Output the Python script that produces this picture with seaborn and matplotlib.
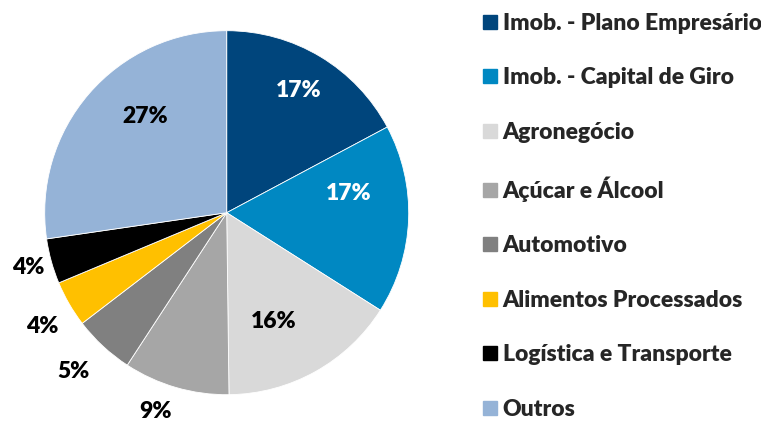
import matplotlib
matplotlib.use("Agg")
import matplotlib.pyplot as plt
from matplotlib.lines import Line2D
import numpy as np
import seaborn as sns

categories = ["Imob. - Plano Empresário", "Imob. - Capital de Giro", "Agronegócio",
              "Açúcar e Álcool", "Automotivo", "Alimentos Processados",
              "Logística e Transporte", "Outros"]
shares = [17.2, 16.8, 15.8, 9.4, 5.4, 4.1, 4.0, 27.3]
colors = ["#00457C", "#0088C2", "#D9D9D9", "#A6A6A6", "#808080", "#FFC000", "#000000", "#95B3D7"]
label_colors = ["white", "white", "black", "black", "black", "black", "black", "black"]

# label placement: radius (in pie radii) and angle offset (deg, clockwise) from wedge middle
label_r = [0.78, 0.68, 0.65, 1.16, 1.21, 1.19, 1.13, 0.69]
label_off = [-0.5, -11.3, 6.0, 3.6, 1.2, -1.7, -0.1, 8.9]

sns.set_theme(style="white")
plt.rcParams["font.family"] = ["Lato", "DejaVu Sans"]

W, H = 761, 422
fig = plt.figure(figsize=(W / 100, H / 100), dpi=100)
ax = fig.add_axes([0, 0, 1, 1])

cx, cy, R = 226.7, 212.7, 182.0
wedges, _ = ax.pie(shares, colors=colors, startangle=90, counterclock=False,
                   wedgeprops=dict(edgecolor="white", linewidth=0.6), radius=1.0)

ax.set_xlim(-cx / R, (W - cx) / R)
ax.set_ylim(-(H - cy) / R, cy / R)
ax.set_aspect("auto")
ax.axis("off")

total = sum(shares)
cum = 0.0
for i, v in enumerate(shares):
    mid = (cum + v / 2) / total * 360.0 + label_off[i]
    cum += v
    a = np.deg2rad(90 - mid)
    x, y = label_r[i] * np.cos(a), label_r[i] * np.sin(a)
    ax.text(x, y, f"{v:.0f}%", ha="center", va="center", fontsize=16.5,
            fontweight="heavy", color=label_colors[i])

handles = [Line2D([0], [0], marker="s", linestyle="none", markersize=9.5,
                  markerfacecolor=c, markeredgecolor=c) for c in colors]
leg = fig.legend(handles, categories, loc="upper left", bbox_to_anchor=(481 / W, 1 - 13 / H),
                 frameon=False, prop=dict(size=16.5, weight="heavy"), handlelength=0.8,
                 handletextpad=0.15, labelspacing=1.46, borderaxespad=0, borderpad=0)

fig.savefig("out.png", dpi=100)
